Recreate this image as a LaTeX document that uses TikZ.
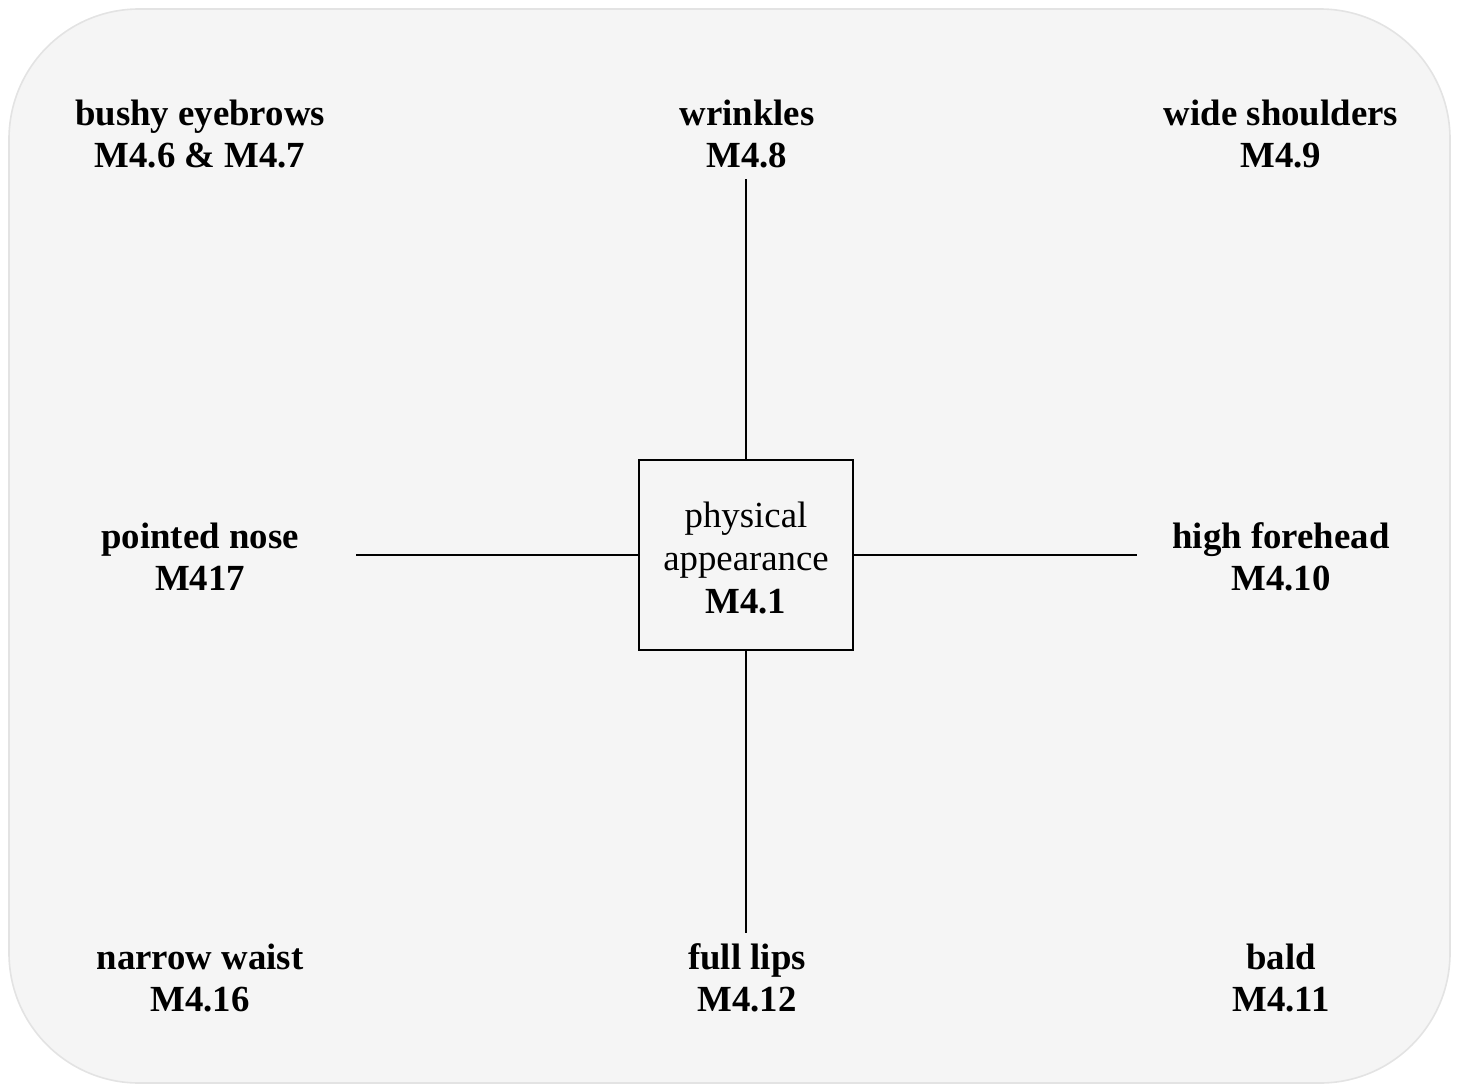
\documentclass[tikz,border=0pt]{standalone}
\usepackage{fontspec}
\setmainfont{Liberation Serif}
\definecolor{bgfill}{HTML}{F5F5F5}
\definecolor{bgline}{HTML}{E3E3E3}
\begin{document}
\begin{tikzpicture}[x=0.5pt,y=-0.5pt,
  lbl/.style={align=center,inner sep=5pt,font=\fontsize{18.4}{21.2}\selectfont\bfseries},
  centerbox/.style={draw=black,line width=1.2pt,minimum width=107pt,minimum height=95pt,
    align=center,inner sep=0pt,font=\fontsize{18.4}{21.4}\selectfont},
  link/.style={draw=black,line width=1pt}]
\useasboundingbox (0,0) rectangle (1460,1086);
\draw[fill=bgfill,draw=bgline,line width=0.8pt,rounded corners=65pt] (9,9) rectangle (1450,1083);
\node[centerbox] (box) at (746,555) {\rule{0pt}{15.8pt}physical\\appearance\\\textbf{M4.1}};
\node[lbl] (bushy) at (200,134) {bushy eyebrows\\M4.6 \& M4.7};
\node[lbl] (wrinkles) at (747,134) {wrinkles\\M4.8};
\node[lbl] (shoulders) at (1281,134) {wide shoulders\\M4.9};
\node[lbl] (nose) at (200,557) {pointed nose\\M417};
\node[lbl] (forehead) at (1281,557) {high forehead\\M4.10};
\node[lbl] (waist) at (200,978) {narrow waist\\M4.16};
\node[lbl] (lips) at (747,978) {full lips\\M4.12};
\node[lbl] (bald) at (1281,978) {bald\\M4.11};
\coordinate (lend) at (356,555);
\coordinate (rend) at (1137,555);
\draw[link] (box.north) -- (box.north |- wrinkles.south);
\draw[link] (box.south) -- (box.south |- lips.north);
\draw[link] (box.west) -- (lend);
\draw[link] (box.east) -- (rend);
\end{tikzpicture}
\end{document}
